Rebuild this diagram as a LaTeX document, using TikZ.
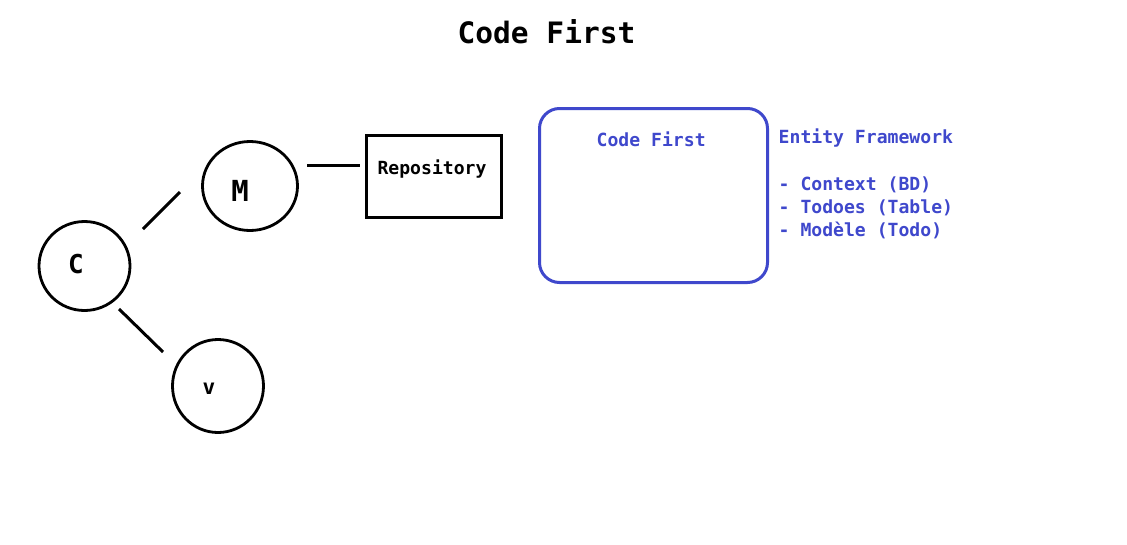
\documentclass[tikz,border=0pt]{standalone}
\usepackage{fontspec}
\setmonofont{DejaVu Sans Mono}
\usetikzlibrary{shapes.geometric}
\definecolor{pblue}{RGB}{63,72,204}
\tikzset{
  circ/.style={draw=black, ellipse, line width=2.8pt, inner sep=0pt},
  conn/.style={draw=black, line width=3pt},
  txt/.style={inner sep=0pt, font=\ttfamily\bfseries\fontsize{18.1}{23}\selectfont},
  bigtxt/.style={inner sep=0pt, font=\ttfamily\bfseries\fontsize{29.5}{34}\selectfont},
  btxt/.style={txt, text=pblue, anchor=base west},
}
\begin{document}
\begin{tikzpicture}[x=1pt,y=-1pt]
\fill[white] (0,0) rectangle (1127,544);
\path[use as bounding box] (0,0) rectangle (1127,544);

\node[bigtxt, anchor=base] (title) at (546.5,43) {Code First};

\node[circ, minimum width=95pt, minimum height=89pt] (M) at (250,186) {};
\node[circ, minimum width=91pt, minimum height=89pt] (C) at (84.5,266) {};
\node[circ, minimum width=91pt, minimum height=93pt] (V) at (218,386) {};
\node[inner sep=0pt, font=\ttfamily\bfseries\fontsize{29}{34}\selectfont] (Mt) at (240,191) {M};
\node[inner sep=0pt, font=\ttfamily\bfseries\fontsize{26}{30}\selectfont] (Ct) at (76,264.5) {C};
\node[inner sep=0pt, font=\ttfamily\bfseries\fontsize{21}{25}\selectfont] (Vt) at (209,389) {v};

\node[draw=black, line width=3pt, minimum width=134.5pt, minimum height=82pt, inner sep=0pt] (R) at (433.75,176.5) {};
\node[txt, anchor=base] (Rt) at (432,174) {Repository};

\draw[conn] ([shift={(58.5,-37)}]C.center) -- ([shift={(-70,6)}]M.center);
\draw[conn] ([shift={(34.5,43)}]C.center) -- ([shift={(-55,-34)}]V.center);
\draw[conn] ([shift={(57,-21)}]M.center) -- ([shift={(-5,-11.5)}]R.west);

\node[draw=pblue, line width=3pt, rounded corners=20pt, minimum width=228pt, minimum height=174pt, inner sep=0pt] (CF) at (653.5,195.5) {};
\node[btxt] (CFt) at (596.5,146.5) {Code First};

\node[btxt] (EF) at (778.5,143.5) {Entity Framework};
\node[btxt] (L1) at (778.5,190) {- Context (BD)};
\node[btxt] (L2) at (778.5,213) {- Todoes (Table)};
\node[btxt] (L3) at (778.5,236) {- Modèle (Todo)};
\end{tikzpicture}
\end{document}
